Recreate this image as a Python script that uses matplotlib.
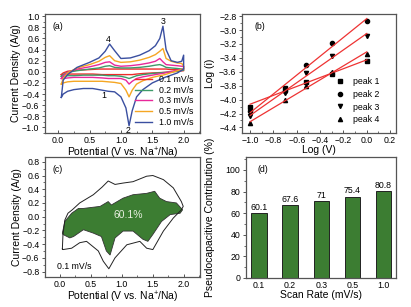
import numpy as np
import matplotlib
matplotlib.use("Agg")
import matplotlib.pyplot as plt
from matplotlib.ticker import MultipleLocator

plt.rcParams['font.family'] = ['Liberation Sans', 'DejaVu Sans']
plt.rcParams['font.size'] = 6.5
plt.rcParams['mathtext.fontset'] = 'custom'
plt.rcParams['mathtext.rm'] = 'Liberation Sans'

# ---------------- Panel (a) data: CV curves (V, A/g) ----------------
# anodic (forward) branch
a_up_V = [0.05, 0.08, 0.15, 0.3, 0.5, 0.65, 0.75, 0.82, 0.9, 1.0, 1.15, 1.3, 1.45, 1.55, 1.62, 1.67, 1.72, 1.8, 1.9, 1.97, 2.0]
# cathodic (reverse) branch
a_dn_V = [2.0, 1.9, 1.7, 1.5, 1.35, 1.25, 1.18, 1.13, 1.08, 1.0, 0.9, 0.8, 0.7, 0.55, 0.4, 0.25, 0.15, 0.08, 0.05]

a_up = {
    "0.1 mV/s": [-0.05, -0.02, 0.01, 0.03, 0.04, 0.05, 0.05, 0.05, 0.05, 0.05, 0.05, 0.05, 0.05, 0.05, 0.05, 0.05, 0.05, 0.04, 0.04, 0.03, 0.03],
    "0.2 mV/s": [-0.08, -0.05, -0.01, 0.02, 0.05, 0.07, 0.1, 0.11, 0.08, 0.07, 0.07, 0.08, 0.1, 0.12, 0.13, 0.11, 0.08, 0.07, 0.06, 0.05, 0.05],
    "0.3 mV/s": [-0.12, -0.07, -0.01, 0.05, 0.09, 0.13, 0.17, 0.18, 0.12, 0.1, 0.11, 0.13, 0.16, 0.19, 0.24, 0.18, 0.13, 0.12, 0.11, 0.1, 0.1],
    "0.5 mV/s": [-0.22, -0.12, -0.02, 0.07, 0.13, 0.19, 0.26, 0.29, 0.2, 0.17, 0.18, 0.21, 0.26, 0.31, 0.37, 0.42, 0.24, 0.19, 0.16, 0.15, 0.1],
    "1.0 mV/s": [-0.46, -0.15, -0.05, 0.08, 0.17, 0.25, 0.37, 0.5, 0.38, 0.24, 0.25, 0.3, 0.38, 0.47, 0.6, 0.82, 0.4, 0.2, 0.17, 0.19, 0.3],
}
a_dn = {
    "0.1 mV/s": [0.02, 0.01, -0.01, -0.02, -0.03, -0.04, -0.05, -0.05, -0.05, -0.05, -0.05, -0.05, -0.05, -0.04, -0.04, -0.04, -0.04, -0.05, -0.05],
    "0.2 mV/s": [0.03, 0.01, -0.01, -0.03, -0.05, -0.07, -0.1, -0.12, -0.1, -0.08, -0.07, -0.07, -0.06, -0.06, -0.06, -0.07, -0.07, -0.08, -0.08],
    "0.3 mV/s": [0.05, 0.03, -0.02, -0.06, -0.09, -0.12, -0.17, -0.22, -0.15, -0.12, -0.12, -0.12, -0.11, -0.1, -0.1, -0.1, -0.11, -0.12, -0.12],
    "0.5 mV/s": [0.05, 0.02, -0.05, -0.1, -0.16, -0.22, -0.33, -0.45, -0.33, -0.21, -0.19, -0.18, -0.17, -0.17, -0.17, -0.17, -0.18, -0.2, -0.22],
    "1.0 mV/s": [0.05, -0.02, -0.1, -0.2, -0.32, -0.45, -0.7, -0.97, -0.65, -0.45, -0.36, -0.35, -0.33, -0.3, -0.3, -0.32, -0.35, -0.4, -0.46],
}
a_colors = {"0.1 mV/s": "#ee2a2a", "0.2 mV/s": "#3e9a6a", "0.3 mV/s": "#e8289a",
            "0.5 mV/s": "#f5a623", "1.0 mV/s": "#3a4fa0"}
a_peak_labels = ["1", "2", "3", "4"]
a_peak_pos = [(0.72, -0.43), (1.12, -1.06), (1.67, 0.91), (0.8, 0.59)]

# ---------------- Panel (b) data: log(i) vs log(v) ----------------
logv = [-1.0, -0.699, -0.523, -0.301, 0.0]
peaks_b = {
    "peak 1": [-4.10, -3.83, -3.75, -3.63, -3.44],
    "peak 2": [-4.16, -3.88, -3.50, -3.18, -2.87],
    "peak 3": [-4.24, -3.90, -3.62, -3.38, -3.08],
    "peak 4": [-4.34, -4.01, -3.81, -3.60, -3.34],
}
b_markers = {"peak 1": "s", "peak 2": "o", "peak 3": "v", "peak 4": "^"}

# ---------------- Panel (c) data: 0.1 mV/s CV and capacitive part ----------------
c_outer_V = [0.04, 0.05, 0.08, 0.13, 0.2, 0.32, 0.54, 0.68, 0.78, 0.89, 1.02, 1.18, 1.4, 1.5, 1.67, 1.83, 1.96, 1.99,
             1.96, 1.83, 1.67, 1.5, 1.4, 1.29, 1.08, 0.89, 0.79, 0.7, 0.62, 0.43, 0.32, 0.19, 0.05, 0.04]
c_outer_I = [-0.47, -0.26, -0.05, 0.05, 0.1, 0.2, 0.32, 0.43, 0.52, 0.47, 0.49, 0.51, 0.59, 0.6, 0.54, 0.42, 0.22, 0.15,
             0.1, -0.02, -0.21, -0.48, -0.46, -0.36, -0.41, -0.6, -0.76, -0.65, -0.5, -0.36, -0.38, -0.46, -0.48, -0.47]
c_fill_V = [0.04, 0.08, 0.19, 0.3, 0.38, 0.65, 0.78, 0.83, 1.02, 1.18, 1.4, 1.53, 1.61, 1.72, 1.88, 1.98,
            1.94, 1.78, 1.64, 1.5, 1.42, 1.34, 1.18, 1.02, 0.89, 0.81, 0.75, 0.67, 0.54, 0.38, 0.22, 0.16, 0.05]
c_fill_I = [-0.24, -0.07, 0.05, 0.12, 0.12, 0.15, 0.22, 0.17, 0.27, 0.32, 0.34, 0.37, 0.27, 0.22, 0.2, 0.1,
            0.05, 0.03, -0.07, -0.26, -0.36, -0.33, -0.21, -0.21, -0.31, -0.56, -0.5, -0.29, -0.24, -0.19, -0.29, -0.31, -0.26]
c_label = "60.1%"

# ---------------- Panel (d) data ----------------
scan_rates = ["0.1", "0.2", "0.3", "0.5", "1.0"]
pseudo = [60.1, 67.6, 71, 75.4, 80.8]
pseudo_text = ["60.1", "67.6", "71", "75.4", "80.8"]

green = "#3c7d32"
spine_col = "#555555"
LAB = 7.5
TICK = 6.3

fig = plt.figure(figsize=(4.11, 3.07), dpi=100)
axa = fig.add_axes([0.1095, 0.5668, 0.377, 0.3876])
axb = fig.add_axes([0.5888, 0.5668, 0.3747, 0.3876])
axc = fig.add_axes([0.1095, 0.0977, 0.377, 0.3909])
axd = fig.add_axes([0.5985, 0.0945, 0.365, 0.394])

def style(ax):
    for s in ax.spines.values():
        s.set_color(spine_col)
        s.set_linewidth(0.9)
    ax.tick_params(axis='x', which='both', direction='in', color=spine_col, labelsize=TICK, pad=2)
    ax.tick_params(axis='y', which='both', direction='out', color=spine_col, labelsize=TICK, pad=1.5)
    ax.tick_params(which='major', length=2.5, width=0.7)
    ax.tick_params(which='minor', length=1.5, width=0.6)

# (a)
for k in a_up:
    V = list(a_up_V) + list(a_dn_V) + [a_up_V[0]]
    I = list(a_up[k]) + list(a_dn[k]) + [a_up[k][0]]
    axa.plot(V, I, color=a_colors[k], lw=1.0, label=k)
axa.set_xlim(-0.21, 2.26)
axa.set_ylim(-1.1, 1.04)
axa.xaxis.set_major_locator(MultipleLocator(0.5))
axa.xaxis.set_minor_locator(MultipleLocator(0.25))
axa.yaxis.set_major_locator(MultipleLocator(0.2))
axa.yaxis.set_minor_locator(MultipleLocator(0.1))
axa.set_xlabel("Potential (V vs. Na$^{+}$/Na)", fontsize=LAB, labelpad=0.5)
axa.set_ylabel("Current Density (A/g)", fontsize=LAB, labelpad=1)
axa.text(0.05, 0.93, "(a)", transform=axa.transAxes, fontsize=TICK, va='top')
for lab, (x, y) in zip(a_peak_labels, a_peak_pos):
    axa.text(x, y, lab, fontsize=TICK, ha='center', va='center')
axa.legend(loc='lower right', frameon=False, fontsize=TICK, handlelength=2.0,
           labelspacing=0.2, borderaxespad=0.3, handletextpad=0.8)
style(axa)

# (b)
for k, vals in peaks_b.items():
    axb.plot(logv, vals, linestyle='none', marker=b_markers[k], color='black', ms=3, label=k)
    p = np.polyfit(logv, vals, 1)
    xs = np.array([logv[0], logv[-1]])
    axb.plot(xs, np.polyval(p, xs), color='#ee3333', lw=0.9)
axb.set_xlim(-1.07, 0.25)
axb.set_ylim(-4.48, -2.77)
axb.xaxis.set_major_locator(MultipleLocator(0.2))
axb.xaxis.set_minor_locator(MultipleLocator(0.1))
axb.yaxis.set_major_locator(MultipleLocator(0.2))
axb.yaxis.set_minor_locator(MultipleLocator(0.1))
axb.set_xlabel("Log (V)", fontsize=LAB, labelpad=0.5)
axb.set_ylabel("Log (i)", fontsize=LAB, labelpad=3)
axb.text(0.08, 0.93, "(b)", transform=axb.transAxes, fontsize=TICK, va='top')
axb.legend(loc='lower right', bbox_to_anchor=(0.93, 0.02), frameon=False, fontsize=TICK,
           handlelength=1.2, labelspacing=0.45, handletextpad=0.8, borderaxespad=0.3)
style(axb)

# (c)
axc.fill(c_fill_V, c_fill_I, color=green, edgecolor='#333333', lw=0.6, zorder=2)
axc.plot(c_outer_V, c_outer_I, color='#222222', lw=0.7, zorder=3)
axc.set_xlim(-0.24, 2.26)
axc.set_ylim(-0.88, 0.87)
axc.xaxis.set_major_locator(MultipleLocator(0.5))
axc.xaxis.set_minor_locator(MultipleLocator(0.25))
axc.yaxis.set_major_locator(MultipleLocator(0.2))
axc.yaxis.set_minor_locator(MultipleLocator(0.1))
axc.set_xlabel("Potential (V vs. Na$^{+}$/Na)", fontsize=LAB, labelpad=0.5)
axc.set_ylabel("Current Density (A/g)", fontsize=LAB, labelpad=0)
axc.text(0.05, 0.93, "(c)", transform=axc.transAxes, fontsize=TICK, va='top')
axc.text(1.1, 0.02, c_label, color='#e8f0e0', fontsize=7.5, ha='center', va='center', zorder=4)
axc.text(-0.05, -0.72, "0.1 mV/s", fontsize=TICK, ha='left', va='center')
style(axc)

# (d)
xpos = np.arange(len(scan_rates))
axd.bar(xpos, pseudo, width=0.5, color=green, edgecolor='#222222', lw=0.7)
for x, v, t in zip(xpos, pseudo, pseudo_text):
    axd.text(x, v + 1, t, ha='center', va='bottom', fontsize=TICK)
axd.set_xticks(xpos)
axd.set_xticklabels(scan_rates)
axd.set_xlim(-0.42, 4.4)
axd.set_ylim(0, 112)
axd.yaxis.set_major_locator(MultipleLocator(20))
axd.yaxis.set_minor_locator(MultipleLocator(10))
axd.set_xlabel("Scan Rate (mV/s)", fontsize=LAB, labelpad=0.5)
axd.set_ylabel("Pseudocapacitive Contribution (%)", fontsize=LAB, labelpad=8)
axd.text(0.08, 0.93, "(d)", transform=axd.transAxes, fontsize=TICK, va='top')
style(axd)
axd.tick_params(axis='x', which='both', length=0)

fig.savefig("out.png", dpi=100)
